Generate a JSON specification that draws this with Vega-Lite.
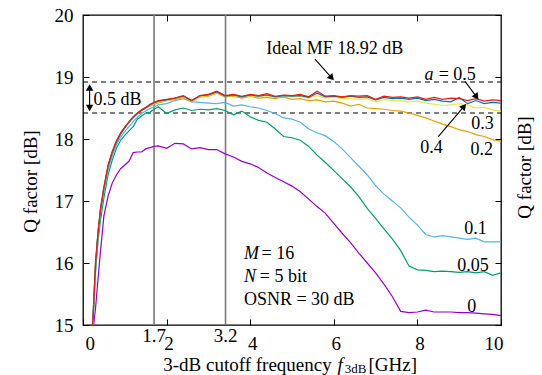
{
  "$schema": "https://vega.github.io/schema/vega-lite/v6.json",
  "width": 418,
  "height": 310,
  "autosize": "none",
  "padding": {"left": 83, "top": 15, "right": 41, "bottom": 50},
  "background": "white",
  "config": {
    "font": "serif",
    "view": {"stroke": "black", "strokeWidth": 1.3},
    "text": {"font": "serif", "fontSize": 18, "color": "black"},
    "axis": {
      "labelFont": "serif", "titleFont": "serif",
      "labelFontSize": 19, "titleFontSize": 19, "titleFontWeight": "normal",
      "labelColor": "black", "titleColor": "black", "tickColor": "black",
      "grid": false, "domain": false, "tickSize": -6, "tickWidth": 1
    }
  },
  "datasets": {
    "curves": [
      {"x":0.22,"s0":14.8,"s005":14.8,"s01":14.82,"s02":14.85,"s03":14.85,"s04":14.85,"s05":14.85},
      {"x":0.3,"s0":15.27,"s005":15.85,"s01":15.9,"s02":16.0,"s03":16.0,"s04":16.0,"s05":16.0},
      {"x":0.36,"s0":15.75,"s005":16.35,"s01":16.42,"s02":16.5,"s03":16.5,"s04":16.5,"s05":16.5},
      {"x":0.42,"s0":16.2,"s005":16.7,"s01":16.8,"s02":16.88,"s03":16.88,"s04":16.87,"s05":16.88},
      {"x":0.5,"s0":16.76,"s005":17.05,"s01":17.15,"s02":17.22,"s03":17.22,"s04":17.21,"s05":17.22},
      {"x":0.6,"s0":17.08,"s005":17.42,"s01":17.5,"s02":17.57,"s03":17.57,"s04":17.56,"s05":17.58},
      {"x":0.7,"s0":17.29,"s005":17.66,"s01":17.73,"s02":17.79,"s03":17.79,"s04":17.78,"s05":17.8},
      {"x":0.8,"s0":17.42,"s005":17.85,"s01":17.91,"s02":17.96,"s03":17.96,"s04":17.95,"s05":17.97},
      {"x":0.9,"s0":17.52,"s005":17.98,"s01":18.03,"s02":18.09,"s03":18.09,"s04":18.08,"s05":18.1},
      {"x":1.0,"s0":17.58,"s005":18.06,"s01":18.12,"s02":18.18,"s03":18.18,"s04":18.18,"s05":18.19},
      {"x":1.1,"s0":17.64,"s005":18.13,"s01":18.2,"s02":18.27,"s03":18.27,"s04":18.27,"s05":18.28},
      {"x":1.2,"s0":17.78,"s005":18.2,"s01":18.28,"s02":18.34,"s03":18.35,"s04":18.35,"s05":18.36},
      {"x":1.3,"s0":17.79,"s005":18.32,"s01":18.35,"s02":18.4,"s03":18.41,"s04":18.41,"s05":18.42},
      {"x":1.4,"s0":17.79,"s005":18.37,"s01":18.41,"s02":18.46,"s03":18.47,"s04":18.46,"s05":18.47},
      {"x":1.5,"s0":17.84,"s005":18.42,"s01":18.45,"s02":18.5,"s03":18.51,"s04":18.5,"s05":18.51},
      {"x":1.6,"s0":17.86,"s005":18.43,"s01":18.49,"s02":18.53,"s03":18.54,"s04":18.55,"s05":18.56},
      {"x":1.7,"s0":17.88,"s005":18.48,"s01":18.52,"s02":18.56,"s03":18.57,"s04":18.58,"s05":18.59},
      {"x":1.8,"s0":17.89,"s005":18.52,"s01":18.55,"s02":18.58,"s03":18.6,"s04":18.61,"s05":18.62},
      {"x":2.0,"s0":17.85,"s005":18.41,"s01":18.57,"s02":18.62,"s03":18.62,"s04":18.63,"s05":18.64},
      {"x":2.2,"s0":17.93,"s005":18.47,"s01":18.62,"s02":18.64,"s03":18.65,"s04":18.66,"s05":18.66},
      {"x":2.4,"s0":17.92,"s005":18.5,"s01":18.65,"s02":18.67,"s03":18.68,"s04":18.69,"s05":18.7},
      {"x":2.6,"s0":17.84,"s005":18.46,"s01":18.6,"s02":18.6,"s03":18.61,"s04":18.62,"s05":18.62},
      {"x":2.8,"s0":17.86,"s005":18.48,"s01":18.59,"s02":18.68,"s03":18.69,"s04":18.7,"s05":18.7},
      {"x":3.0,"s0":17.83,"s005":18.47,"s01":18.58,"s02":18.69,"s03":18.7,"s04":18.71,"s05":18.72},
      {"x":3.2,"s0":17.83,"s005":18.49,"s01":18.57,"s02":18.74,"s03":18.75,"s04":18.76,"s05":18.77},
      {"x":3.4,"s0":17.76,"s005":18.46,"s01":18.59,"s02":18.68,"s03":18.69,"s04":18.69,"s05":18.7},
      {"x":3.6,"s0":17.71,"s005":18.39,"s01":18.53,"s02":18.69,"s03":18.7,"s04":18.71,"s05":18.72},
      {"x":3.8,"s0":17.64,"s005":18.45,"s01":18.55,"s02":18.66,"s03":18.68,"s04":18.68,"s05":18.69},
      {"x":4.0,"s0":17.6,"s005":18.36,"s01":18.52,"s02":18.69,"s03":18.7,"s04":18.71,"s05":18.72},
      {"x":4.2,"s0":17.54,"s005":18.3,"s01":18.5,"s02":18.66,"s03":18.68,"s04":18.69,"s05":18.7},
      {"x":4.4,"s0":17.45,"s005":18.27,"s01":18.46,"s02":18.67,"s03":18.7,"s04":18.71,"s05":18.73},
      {"x":4.6,"s0":17.38,"s005":18.16,"s01":18.41,"s02":18.65,"s03":18.67,"s04":18.68,"s05":18.69},
      {"x":4.8,"s0":17.31,"s005":18.04,"s01":18.34,"s02":18.68,"s03":18.69,"s04":18.7,"s05":18.71},
      {"x":5.0,"s0":17.24,"s005":18.02,"s01":18.32,"s02":18.64,"s03":18.68,"s04":18.69,"s05":18.7},
      {"x":5.2,"s0":17.15,"s005":17.98,"s01":18.27,"s02":18.65,"s03":18.69,"s04":18.7,"s05":18.72},
      {"x":5.4,"s0":17.03,"s005":17.88,"s01":18.16,"s02":18.62,"s03":18.66,"s04":18.67,"s05":18.68},
      {"x":5.6,"s0":16.91,"s005":17.74,"s01":18.1,"s02":18.63,"s03":18.7,"s04":18.74,"s05":18.77},
      {"x":5.8,"s0":16.8,"s005":17.62,"s01":18.05,"s02":18.6,"s03":18.66,"s04":18.68,"s05":18.69},
      {"x":6.0,"s0":16.64,"s005":17.49,"s01":17.96,"s02":18.61,"s03":18.67,"s04":18.69,"s05":18.7},
      {"x":6.2,"s0":16.48,"s005":17.36,"s01":17.84,"s02":18.58,"s03":18.65,"s04":18.67,"s05":18.68},
      {"x":6.4,"s0":16.33,"s005":17.23,"s01":17.7,"s02":18.53,"s03":18.66,"s04":18.69,"s05":18.7},
      {"x":6.6,"s0":16.16,"s005":17.07,"s01":17.56,"s02":18.56,"s03":18.64,"s04":18.67,"s05":18.69},
      {"x":6.8,"s0":16.0,"s005":16.88,"s01":17.42,"s02":18.5,"s03":18.65,"s04":18.68,"s05":18.7},
      {"x":7.0,"s0":15.84,"s005":16.72,"s01":17.25,"s02":18.49,"s03":18.6,"s04":18.63,"s05":18.64},
      {"x":7.2,"s0":15.66,"s005":16.55,"s01":17.11,"s02":18.48,"s03":18.64,"s04":18.67,"s05":18.69},
      {"x":7.4,"s0":15.46,"s005":16.39,"s01":17.0,"s02":18.46,"s03":18.62,"s04":18.65,"s05":18.67},
      {"x":7.6,"s0":15.22,"s005":16.2,"s01":16.89,"s02":18.45,"s03":18.62,"s04":18.66,"s05":18.68},
      {"x":7.8,"s0":15.2,"s005":15.95,"s01":16.74,"s02":18.42,"s03":18.6,"s04":18.64,"s05":18.66},
      {"x":8.0,"s0":15.21,"s005":15.89,"s01":16.61,"s02":18.38,"s03":18.61,"s04":18.66,"s05":18.68},
      {"x":8.2,"s0":15.24,"s005":15.88,"s01":16.46,"s02":18.34,"s03":18.58,"s04":18.62,"s05":18.64},
      {"x":8.4,"s0":15.21,"s005":15.86,"s01":16.42,"s02":18.29,"s03":18.56,"s04":18.64,"s05":18.67},
      {"x":8.6,"s0":15.21,"s005":15.87,"s01":16.44,"s02":18.24,"s03":18.54,"s04":18.61,"s05":18.64},
      {"x":8.8,"s0":15.21,"s005":15.86,"s01":16.42,"s02":18.2,"s03":18.55,"s04":18.6,"s05":18.66},
      {"x":9.0,"s0":15.2,"s005":15.85,"s01":16.4,"s02":18.15,"s03":18.57,"s04":18.67,"s05":18.65},
      {"x":9.2,"s0":15.2,"s005":15.86,"s01":16.38,"s02":18.12,"s03":18.55,"s04":18.57,"s05":18.62},
      {"x":9.4,"s0":15.19,"s005":15.84,"s01":16.4,"s02":18.07,"s03":18.5,"s04":18.62,"s05":18.65},
      {"x":9.6,"s0":15.18,"s005":15.86,"s01":16.34,"s02":18.04,"s03":18.51,"s04":18.57,"s05":18.61},
      {"x":9.8,"s0":15.17,"s005":15.8,"s01":16.34,"s02":17.99,"s03":18.47,"s04":18.59,"s05":18.63},
      {"x":10.0,"s0":15.15,"s005":15.84,"s01":16.34,"s02":17.96,"s03":18.45,"s04":18.58,"s05":18.62}
    ]
  },
  "layer": [
    {
      "data": {"values": [{"x": 1.7}, {"x": 3.41}]},
      "mark": {"type": "rule", "color": "#7a7a7a", "strokeWidth": 1.6},
      "encoding": {
        "x": {"field": "x", "type": "quantitative", "scale": {"domain": [0, 10], "nice": false, "zero": false},
          "axis": {"orient": "bottom", "values": [0, 2, 4, 6, 8, 10], "labelPadding": 15, "labelBaseline": "top", "labelOffset": 2, "title": null}}
      }
    },
    {
      "data": {"values": [{"y": 18.92}, {"y": 18.42}]},
      "mark": {"type": "rule", "color": "black", "strokeWidth": 1.1, "strokeDash": [5, 4]},
      "encoding": {
        "x": {"datum": 0, "type": "quantitative", "axis": {"orient": "top", "values": [2, 4, 6, 8], "labels": false, "title": null}},
        "x2": {"datum": 10},
        "y": {"field": "y", "type": "quantitative", "scale": {"domain": [15, 20], "nice": false, "zero": false},
          "axis": {"orient": "right", "values": [15, 16, 17, 18, 19, 20], "labels": false, "title": "Q factor [dB]", "titleAngle": -90, "titleX": 29, "titleY": 152, "titleAlign": "center", "titleBaseline": "alphabetic"}}
      }
    },
    {
      "data": {"name": "curves"},
      "transform": [{"fold": ["s0", "s005", "s01", "s02", "s03", "s04", "s05"], "as": ["a", "q"]}],
      "mark": {"type": "line", "strokeWidth": 1.2, "clip": true},
      "encoding": {
        "x": {"field": "x", "type": "quantitative", "axis": null},
        "y": {"field": "q", "type": "quantitative",
          "axis": {"orient": "left", "values": [15, 16, 17, 18, 19, 20], "labelPadding": 16, "title": "Q factor [dB]", "titleAngle": -90, "titleX": -47, "titleY": 166, "titleAlign": "center", "titleBaseline": "alphabetic"}},
        "color": {"field": "a", "type": "nominal", "legend": null,
          "scale": {"domain": ["s0", "s005", "s01", "s02", "s03", "s04", "s05"],
            "range": ["#9400d3", "#009e73", "#56b4e9", "#e69f00", "#f0e442", "#0072b2", "#e51e10"]}}
      }
    },
    {
      "data": {"values": [
        {"x": 5.55, "y": 19.29, "x2": 5.95, "y2": 18.985},
        {"x": 9.14, "y": 18.93, "x2": 9.415, "y2": 18.68},
        {"x": 8.5, "y": 18.04, "x2": 9.115, "y2": 18.526},
        {"x": 0.158, "y": 18.83, "x2": 0.158, "y2": 18.5}
      ]},
      "mark": {"type": "rule", "color": "black", "strokeWidth": 1.1},
      "encoding": {
        "x": {"field": "x", "type": "quantitative", "axis": null},
        "y": {"field": "y", "type": "quantitative", "axis": null},
        "x2": {"field": "x2"},
        "y2": {"field": "y2"}
      }
    },
    {
      "data": {"values": [
        {"x": 5.95, "y": 18.985, "ang": 138.5},
        {"x": 9.415, "y": 18.68, "ang": 143.5},
        {"x": 9.115, "y": 18.526, "ang": 40.3},
        {"x": 0.158, "y": 18.83, "ang": 0},
        {"x": 0.158, "y": 18.5, "ang": 180}
      ]},
      "mark": {"type": "point", "shape": "triangle-up", "filled": true, "color": "black", "opacity": 1, "size": 55, "strokeWidth": 0},
      "encoding": {
        "x": {"field": "x", "type": "quantitative", "axis": null},
        "y": {"field": "y", "type": "quantitative", "axis": null},
        "angle": {"field": "ang", "type": "quantitative", "scale": null}
      }
    },
    {
      "data": {"values": [
        {"x": 0.254, "y": 18.553, "t": "0.5 dB"},
        {"x": 8.51, "y": 18.952, "t": "= 0.5"},
        {"x": 4.27, "y": 16.06, "t": "= 16"},
        {"x": 4.23, "y": 15.70, "t": "= 5 bit"},
        {"x": 3.85, "y": 15.32, "t": "OSNR = 30 dB"}
      ]},
      "mark": {"type": "text", "align": "left", "baseline": "alphabetic", "fontSize": 18, "font": "serif", "clip": false},
      "encoding": {
        "x": {"field": "x", "type": "quantitative", "axis": null},
        "y": {"field": "y", "type": "quantitative", "axis": null},
        "text": {"field": "t"}
      }
    },
    {
      "data": {"values": [
        {"x": 8.17, "y": 18.952, "t": "a"},
        {"x": 3.85, "y": 16.06, "t": "M"},
        {"x": 3.85, "y": 15.70, "t": "N"}
      ]},
      "mark": {"type": "text", "align": "left", "baseline": "alphabetic", "fontSize": 18, "font": "serif", "fontStyle": "italic"},
      "encoding": {
        "x": {"field": "x", "type": "quantitative", "axis": null},
        "y": {"field": "y", "type": "quantitative", "axis": null},
        "text": {"field": "t"}
      }
    },
    {
      "data": {"values": [
        {"x": 7.66, "y": 19.366, "t": "Ideal MF 18.92 dB"}
      ]},
      "mark": {"type": "text", "align": "right", "baseline": "alphabetic", "fontSize": 18, "font": "serif"},
      "encoding": {
        "x": {"field": "x", "type": "quantitative", "axis": null},
        "y": {"field": "y", "type": "quantitative", "axis": null},
        "text": {"field": "t"}
      }
    },
    {
      "data": {"values": [
        {"x": 9.56, "y": 18.157, "t": "0.3"},
        {"x": 8.34, "y": 17.779, "t": "0.4"},
        {"x": 9.54, "y": 17.742, "t": "0.2"},
        {"x": 9.39, "y": 16.468, "t": "0.1"},
        {"x": 9.33, "y": 15.876, "t": "0.05"},
        {"x": 9.30, "y": 15.21, "t": "0"}
      ]},
      "mark": {"type": "text", "align": "center", "baseline": "alphabetic", "fontSize": 18, "font": "serif"},
      "encoding": {
        "x": {"field": "x", "type": "quantitative", "axis": null},
        "y": {"field": "y", "type": "quantitative", "axis": null},
        "text": {"field": "t"}
      }
    },
    {
      "data": {"values": [
        {"x": 1.7, "y": 14.72, "t": "1.7"},
        {"x": 3.41, "y": 14.72, "t": "3.2"}
      ]},
      "mark": {"type": "text", "align": "center", "baseline": "alphabetic", "fontSize": 19, "font": "serif", "clip": false},
      "encoding": {
        "x": {"field": "x", "type": "quantitative", "axis": null},
        "y": {"field": "y", "type": "quantitative", "axis": null},
        "text": {"field": "t"}
      }
    },
    {
      "data": {"values": [
        {"x": 1.92, "y": 14.258, "t": "3-dB cutoff frequency"},
        {"x": 6.83, "y": 14.258, "t": "[GHz]"}
      ]},
      "mark": {"type": "text", "align": "left", "baseline": "alphabetic", "fontSize": 19, "font": "serif"},
      "encoding": {
        "x": {"field": "x", "type": "quantitative", "axis": null},
        "y": {"field": "y", "type": "quantitative", "axis": null},
        "text": {"field": "t"}
      }
    },
    {
      "data": {"values": [{"x": 6.09, "y": 14.258, "t": "f"}]},
      "mark": {"type": "text", "align": "left", "baseline": "alphabetic", "fontSize": 19, "font": "serif", "fontStyle": "italic"},
      "encoding": {
        "x": {"field": "x", "type": "quantitative", "axis": null},
        "y": {"field": "y", "type": "quantitative", "axis": null},
        "text": {"field": "t"}
      }
    },
    {
      "data": {"values": [{"x": 6.26, "y": 14.218, "t": "3dB"}]},
      "mark": {"type": "text", "align": "left", "baseline": "alphabetic", "fontSize": 13, "font": "serif"},
      "encoding": {
        "x": {"field": "x", "type": "quantitative", "axis": null},
        "y": {"field": "y", "type": "quantitative", "axis": null},
        "text": {"field": "t"}
      }
    }
  ],
  "resolve": {"axis": {"x": "independent", "y": "independent"}}
}
